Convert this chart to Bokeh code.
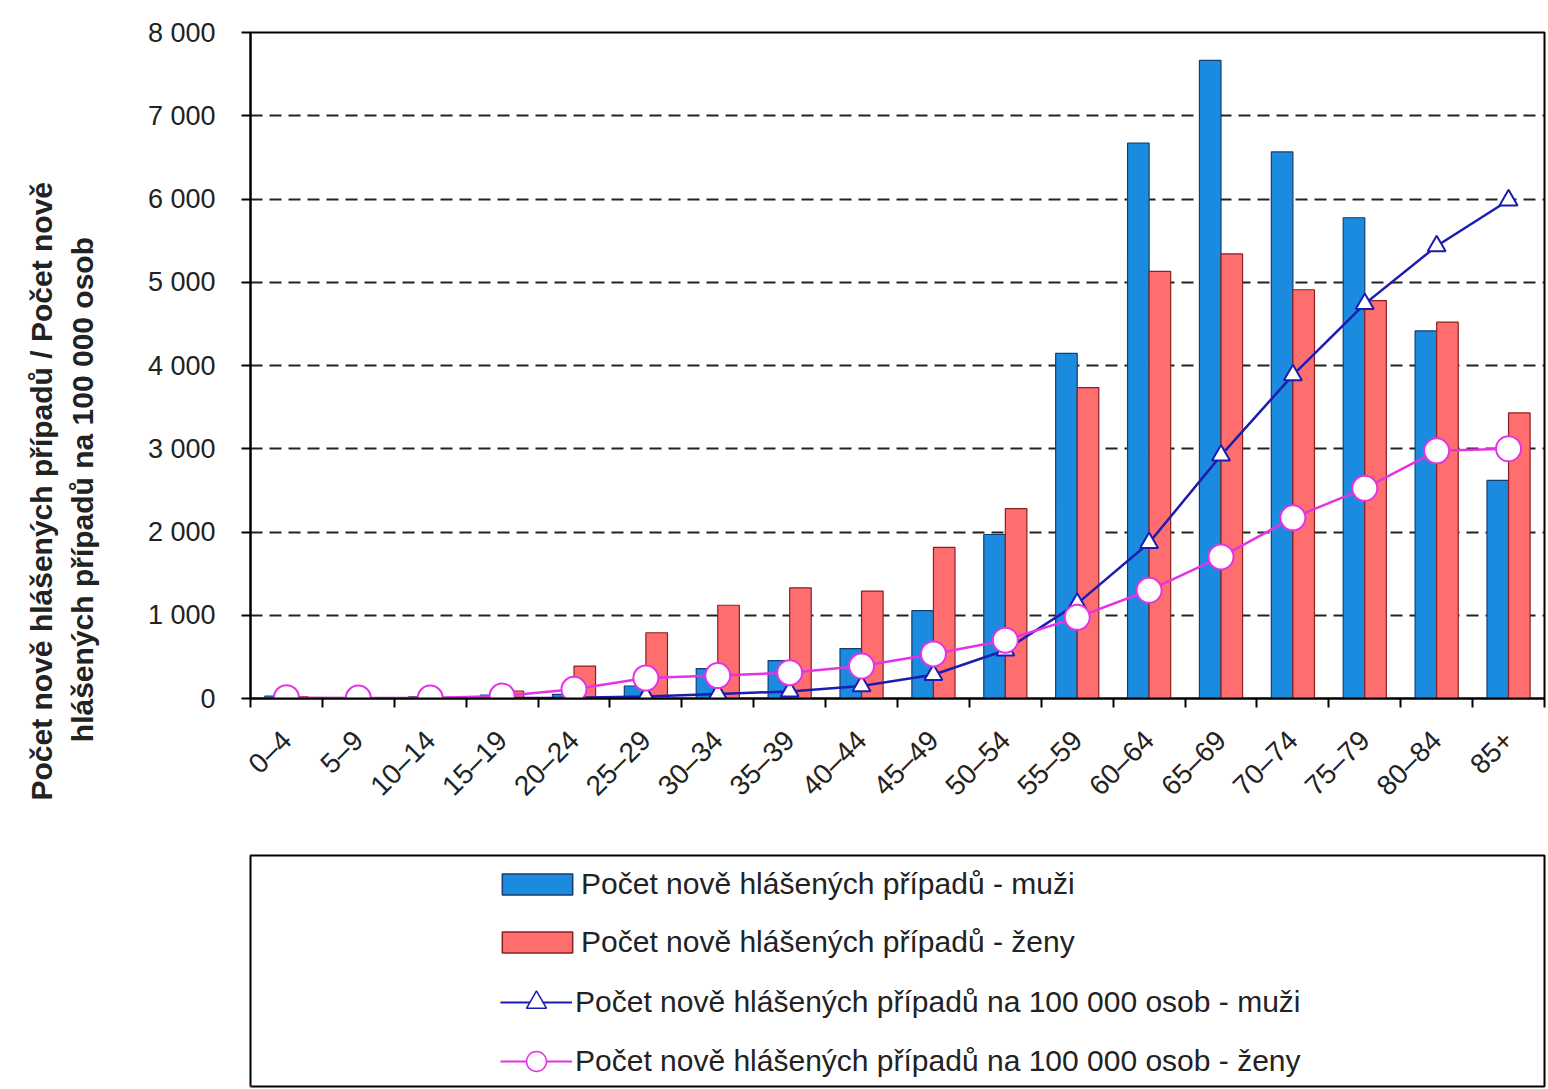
import numpy as np
from bokeh.plotting import figure
from bokeh.models import (ColumnDataSource, Range1d, FixedTicker, Legend, LegendItem, Title)
from bokeh.layouts import column
from bokeh.transform import dodge
from bokeh.embed import file_html
from bokeh.resources import INLINE

# ---------------- data ----------------
categories = ["0–4", "5–9", "10–14", "15–19", "20–24", "25–29", "30–34", "35–39", "40–44",
              "45–49", "50–54", "55–59", "60–64", "65–69", "70–74", "75–79", "80–84", "85+"]
muzi_cases = [30, 10, 20, 40, 50, 150, 360, 455, 600, 1055, 1970, 4145, 6670, 7665, 6565, 5775, 4415, 2620]
zeny_cases = [20, 10, 15, 90, 390, 790, 1120, 1330, 1290, 1815, 2280, 3735, 5130, 5340, 4910, 4780, 4520, 3430]
muzi_rate = [2, 2, 2, 5, 10, 25, 55, 85, 150, 285, 580, 1140, 1870, 2920, 3885, 4740, 5435, 5985]
zeny_rate = [10, 5, 5, 30, 110, 245, 275, 310, 390, 535, 700, 975, 1300, 1700, 2170, 2525, 2975, 3000]
y_ticks = [0, 1000, 2000, 3000, 4000, 5000, 6000, 7000, 8000]
y_tick_labels = ["0", "1 000", "2 000", "3 000", "4 000", "5 000", "6 000", "7 000", "8 000"]
series_labels = ["Počet nově hlášených případů - muži",
                 "Počet nově hlášených případů - ženy",
                 "Počet nově hlášených případů na 100 000 osob - muži",
                 "Počet nově hlášených případů na 100 000 osob - ženy"]
y_title_lines = ["Počet nově hlášených případů / Počet nově",
                 "hlášených případů na 100 000 osob"]

BLUE = "#1b8be0"
BLUE_EDGE = "#143e70"
RED = "#ff6e6e"
RED_EDGE = "#8e1f1f"
NAVY = "#1c1cb0"
PINK = "#e632e6"
FONT = "Liberation Sans"
NBSP = "\u00a0"

idx = np.arange(len(categories))
src = ColumnDataSource(dict(x=idx, cat=categories, muzi=muzi_cases, zeny=zeny_cases,
                            mrate=muzi_rate, zrate=zeny_rate))

p = figure(width=1546, height=848, x_range=Range1d(-0.5, len(categories) - 0.5),
           y_range=Range1d(0, 8000), toolbar_location=None, output_backend="svg",
           min_border_left=250, min_border_right=2, min_border_top=32, min_border_bottom=150)

p.vbar(x=dodge("x", -0.15, range=p.x_range), top="muzi", width=0.3, source=src,
       fill_color=BLUE, line_color=BLUE_EDGE, line_width=1.2)
p.vbar(x=dodge("x", 0.15, range=p.x_range), top="zeny", width=0.3, source=src,
       fill_color=RED, line_color=RED_EDGE, line_width=1.2)
p.line(x="x", y="mrate", source=src, line_color=NAVY, line_width=2.5)
p.scatter(x="x", y="mrate", source=src, marker="triangle", size=18,
          fill_color="white", line_color=NAVY, line_width=2)
p.line(x="x", y="zrate", source=src, line_color=PINK, line_width=2.5)
p.scatter(x="x", y="zrate", source=src, marker="circle", size=25,
          fill_color="white", line_color=PINK, line_width=2)

# axes
p.xgrid.visible = False
p.ygrid.grid_line_color = "#222222"
p.ygrid.grid_line_width = 2
p.ygrid.grid_line_dash = "12 7"
p.ygrid.ticker = FixedTicker(ticks=y_ticks)

p.yaxis.ticker = FixedTicker(ticks=y_ticks)
p.yaxis.major_label_overrides = dict(zip(y_ticks, y_tick_labels))
p.yaxis.major_label_text_font = FONT
p.yaxis.major_label_text_font_size = "27px"
p.yaxis.major_label_text_color = "#222222"
p.yaxis.axis_line_width = 2
p.yaxis.axis_line_color = "black"
p.yaxis.major_tick_out = 9
p.yaxis.major_tick_in = 0
p.yaxis.major_tick_line_width = 2
p.yaxis.major_label_standoff = 26

bounds = [float(i) - 0.5 for i in range(len(categories) + 1)]
p.xaxis.ticker = FixedTicker(ticks=list(idx), minor_ticks=bounds)
p.xaxis.major_label_overrides = {int(i): c for i, c in zip(idx, categories)}
p.xaxis.major_label_orientation = np.pi / 4
p.xaxis.major_label_text_font = FONT
p.xaxis.major_label_text_font_size = "28px"
p.xaxis.major_label_text_color = "#222222"
p.xaxis.major_label_standoff = 28
p.xaxis.axis_line_width = 2
p.xaxis.axis_line_color = "black"
p.xaxis.major_tick_out = 0
p.xaxis.major_tick_in = 0
p.xaxis.minor_tick_out = 9
p.xaxis.minor_tick_in = 0
p.xaxis.minor_tick_line_width = 2
p.xaxis.minor_tick_line_color = "black"

p.outline_line_color = "black"
p.outline_line_width = 2

# y-axis title: two lines, second one centred under the first, lowered below the frame centre
title_text = y_title_lines[0] + "\n" + NBSP * 7 + y_title_lines[1] + "\n" + NBSP
p.add_layout(Title(text=title_text, align="left", offset=-102, standoff=11,
                   text_font=FONT, text_font_style="bold", text_font_size="30px",
                   text_line_height=1.22, text_color="#222222"), "left")

# ---------------- legend box ----------------
p2 = figure(width=1546, height=240, x_range=Range1d(1000, 1001), y_range=Range1d(1e6, 1e6 + 1),
            toolbar_location=None, output_backend="svg",
            min_border_left=250, min_border_right=2, min_border_top=7, min_border_bottom=2,
            x_axis_location=None, y_axis_location=None)
p2.grid.visible = False
p2.outline_line_color = "black"
p2.outline_line_width = 2

# legend-only renderers (same data, lying outside this box's visible range)
rb = p2.vbar(x="x", top="muzi", width=0.3, source=src, fill_color=BLUE, line_color=BLUE_EDGE, line_width=1.5)
rr = p2.vbar(x="x", top="zeny", width=0.3, source=src, fill_color=RED, line_color=RED_EDGE, line_width=1.5)
rl1 = p2.line(x="x", y="mrate", source=src, line_color=NAVY, line_width=2)
rs1 = p2.scatter(x="x", y="mrate", source=src, marker="triangle", size=17, fill_color="white", line_color=NAVY, line_width=1.5)
rl2 = p2.line(x="x", y="zrate", source=src, line_color=PINK, line_width=2)
rs2 = p2.scatter(x="x", y="zrate", source=src, marker="circle", size=22, fill_color="white", line_color=PINK, line_width=1.5)

leg1 = Legend(items=[LegendItem(label=series_labels[0], renderers=[rb]),
                     LegendItem(label=series_labels[1], renderers=[rr])],
              location=(243, 127), glyph_width=88, glyph_height=26, label_height=26,
              spacing=24, padding=0, margin=0, label_standoff=0,
              border_line_alpha=0, background_fill_alpha=0,
              label_text_font=FONT, label_text_font_size="30px", label_text_color="#222222")
leg2 = Legend(items=[LegendItem(label=series_labels[2], renderers=[rl1, rs1]),
                     LegendItem(label=series_labels[3], renderers=[rl2, rs2])],
              location=(250, 0), glyph_width=72, glyph_height=50, label_height=50,
              spacing=9, padding=0, margin=0, label_standoff=3,
              border_line_alpha=0, background_fill_alpha=0,
              label_text_font=FONT, label_text_font_size="30px", label_text_color="#222222")
p2.add_layout(leg1)
p2.add_layout(leg2)

layout = column(p, p2, spacing=0)
open("out.html", "w").write(file_html(layout, INLINE))
